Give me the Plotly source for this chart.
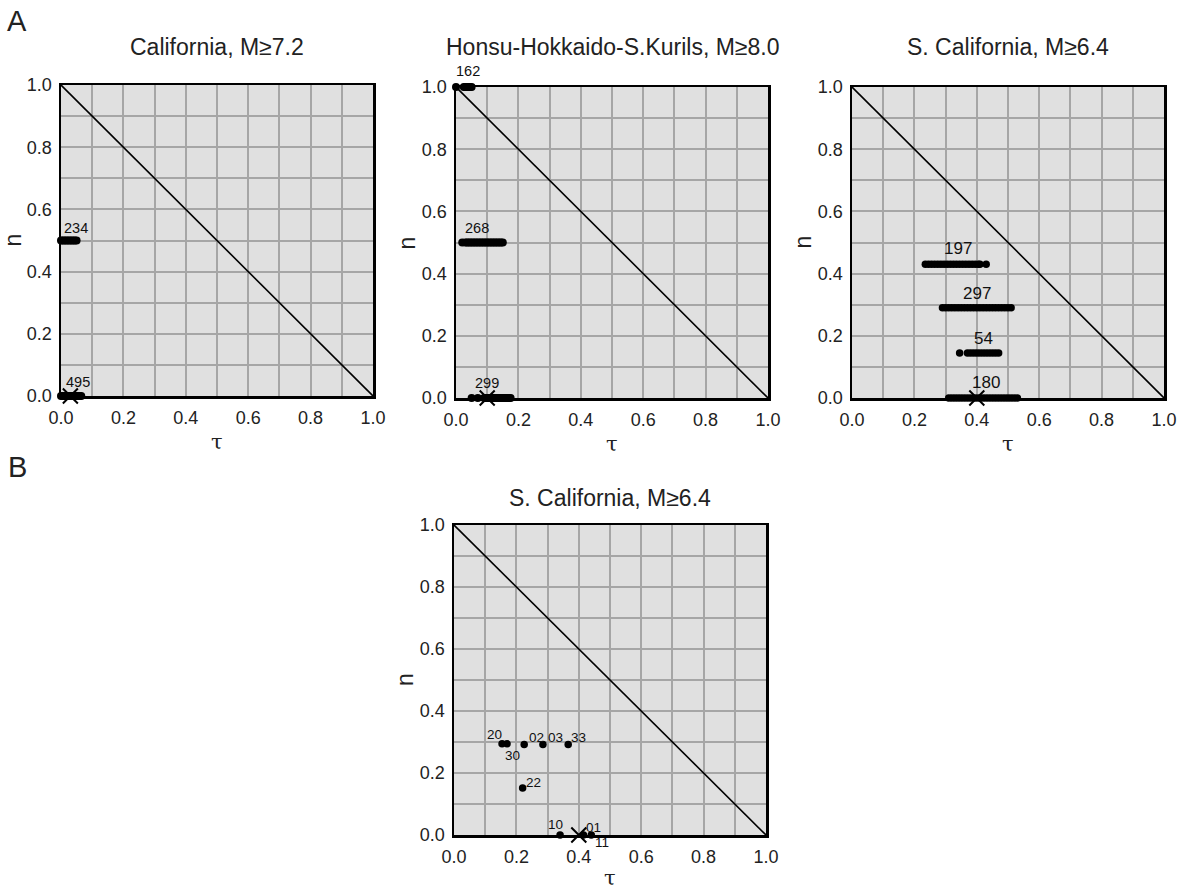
import plotly.graph_objects as go

W, H = 1186, 892

# ---------------- data ----------------
# Panel A1: California, M>=7.2
a1_half_tau = [0.000, 0.005, 0.010, 0.015, 0.020, 0.025, 0.030, 0.035, 0.040, 0.045, 0.050]
a1_half_n = 0.5
a1_zero_tau = [0.000, 0.005, 0.010, 0.015, 0.020, 0.025, 0.030, 0.035, 0.040, 0.045, 0.050, 0.055, 0.060, 0.065]
a1_zero_n = 0.0
a1_x = (0.03, 0.0)
a1_labels = [("234", 0.048, 0.54), ("495", 0.055, 0.045)]

# Panel A2: Honsu-Hokkaido-S.Kurils, M>=8.0
a2_one_tau = [0.000, 0.025, 0.030, 0.035, 0.040, 0.045, 0.050]
a2_one_n = 1.0
a2_half_tau = [0.020, 0.030, 0.035, 0.040, 0.045, 0.050, 0.055, 0.060, 0.065, 0.070, 0.075, 0.080,
               0.085, 0.090, 0.095, 0.100, 0.105, 0.110, 0.115, 0.120, 0.125, 0.130, 0.135, 0.140, 0.145, 0.150]
a2_half_n = 0.5
a2_zero_tau = [0.050, 0.070, 0.090, 0.095, 0.100, 0.105, 0.110, 0.115, 0.120, 0.125, 0.130, 0.135,
               0.140, 0.145, 0.150, 0.155, 0.160, 0.165, 0.170, 0.175]
a2_zero_n = 0.0
a2_x = (0.10, 0.0)
a2_labels = [("162", 0.04, 1.05), ("268", 0.067, 0.547), ("299", 0.10, 0.048)]

# Panel A3: S. California, M>=6.4
a3_r1_tau = [0.235, 0.245, 0.255, 0.265, 0.275, 0.285, 0.295, 0.305, 0.315, 0.325, 0.335, 0.345,
             0.355, 0.365, 0.375, 0.385, 0.395, 0.405, 0.410, 0.430]
a3_r1_n = 0.43
a3_r2_tau = [0.290, 0.300, 0.310, 0.320, 0.330, 0.340, 0.350, 0.360, 0.370, 0.380, 0.390, 0.400,
             0.410, 0.420, 0.430, 0.440, 0.450, 0.460, 0.470, 0.480, 0.490, 0.500, 0.510]
a3_r2_n = 0.29
a3_r3_tau = [0.345, 0.370, 0.380, 0.390, 0.400, 0.410, 0.420, 0.430, 0.440, 0.450, 0.460, 0.470]
a3_r3_n = 0.145
a3_r4_tau = [0.310, 0.320, 0.330, 0.340, 0.350, 0.360, 0.370, 0.380, 0.390, 0.400, 0.410, 0.420,
             0.430, 0.440, 0.450, 0.460, 0.470, 0.480, 0.490, 0.500, 0.510, 0.520, 0.530]
a3_r4_n = 0.0
a3_x = (0.40, 0.0)
a3_labels = [("197", 0.34, 0.48), ("297", 0.40, 0.335), ("54", 0.42, 0.19), ("180", 0.43, 0.05)]

# Panel B: S. California, M>=6.4 (individual points)
b_names = ["20", "30", "02", "03", "33", "22", "10", "01", "11"]
b_tau = [0.154, 0.170, 0.225, 0.285, 0.366, 0.220, 0.340, 0.415, 0.440]
b_n = [0.294, 0.294, 0.292, 0.292, 0.292, 0.152, 0.000, 0.000, 0.000]
b_label_pos = [(0.131, 0.323), (0.189, 0.258), (0.263, 0.313), (0.324, 0.313), (0.400, 0.313),
               (0.256, 0.168), (0.324, 0.035), (0.446, 0.023), (0.474, -0.023)]
b_x = (0.40, 0.0)

titles = ["California, M\u22657.2", "Honsu-Hokkaido-S.Kurils, M\u22658.0",
          "S. California, M\u22656.4", "S. California, M\u22656.4"]
tick_vals = [0.0, 0.2, 0.4, 0.6, 0.8, 1.0]

# ---------------- layout geometry (window pixels) ----------------
boxes = [  # left, right, top, bottom
    (61, 373, 85, 396),
    (456, 768, 87, 398),
    (852, 1164, 87, 398),
    (454, 766, 525, 835),
]

def px(xp):
    return xp / W

def py(yp):
    return 1 - yp / H

FONT = "Liberation Sans, Arial, Helvetica, sans-serif"
GRID = "#a6a6a6"
fig = go.Figure()

def ax_name(i, kind):
    return kind + ("" if i == 0 else str(i + 1))

def add_dots(i, xs, ys, size=7.5):
    fig.add_trace(go.Scatter(x=xs, y=ys, mode="markers", xaxis=ax_name(i, "x"), yaxis=ax_name(i, "y"),
                             marker=dict(color="black", size=size), cliponaxis=False,
                             showlegend=False, hoverinfo="skip"))

def add_cross(i, pt):
    fig.add_trace(go.Scatter(x=[pt[0]], y=[pt[1]], mode="markers", xaxis=ax_name(i, "x"),
                             yaxis=ax_name(i, "y"),
                             marker=dict(symbol="x-thin", size=15, line=dict(color="black", width=2)),
                             cliponaxis=False, showlegend=False, hoverinfo="skip"))

def add_diag(i):
    fig.add_trace(go.Scatter(x=[0, 1], y=[1, 0], mode="lines", xaxis=ax_name(i, "x"), yaxis=ax_name(i, "y"),
                             line=dict(color="black", width=1.6), showlegend=False, hoverinfo="skip"))

for i in range(4):
    add_diag(i)

add_dots(0, a1_half_tau, [a1_half_n] * len(a1_half_tau), 8)
add_dots(0, a1_zero_tau, [a1_zero_n] * len(a1_zero_tau), 8)
add_cross(0, a1_x)

add_dots(1, a2_one_tau, [a2_one_n] * len(a2_one_tau), 8)
add_dots(1, a2_half_tau, [a2_half_n] * len(a2_half_tau), 8)
add_dots(1, a2_zero_tau, [a2_zero_n] * len(a2_zero_tau), 8)
add_cross(1, a2_x)

add_dots(2, a3_r1_tau, [a3_r1_n] * len(a3_r1_tau))
add_dots(2, a3_r2_tau, [a3_r2_n] * len(a3_r2_tau))
add_dots(2, a3_r3_tau, [a3_r3_n] * len(a3_r3_tau))
add_dots(2, a3_r4_tau, [a3_r4_n] * len(a3_r4_tau))
add_cross(2, a3_x)

add_dots(3, b_tau, b_n)
add_cross(3, b_x)

annotations = []
def lab(i, text, x, y, size):
    # labels outside the axis range would be hidden, so clamp and shift in pixels
    l, r, t, b = boxes[i]
    yc = min(max(y, 0.0), 1.0)
    shift = (y - yc) * (b - t)
    annotations.append(dict(text=text, x=x, y=yc, yshift=shift, xref=ax_name(i, "x"), yref=ax_name(i, "y"),
                            showarrow=False, font=dict(family=FONT, size=size, color="#111")))

for t, x, y in a1_labels:
    lab(0, t, x, y, 14.5)
for t, x, y in a2_labels:
    lab(1, t, x, y, 14.5)
for t, x, y in a3_labels:
    lab(2, t, x, y, 17)
for t, (x, y) in zip(b_names, b_label_pos):
    lab(3, t, x, y, 13.5)

layout = dict(width=W, height=H, margin=dict(l=0, r=0, t=0, b=0, pad=0), autosize=False,
              paper_bgcolor="white", plot_bgcolor="#e0e0e0", showlegend=False)

for i, (l, r, t, b) in enumerate(boxes):
    xd = [px(l), px(r)]
    yd = [py(b), py(t)]
    common = dict(range=[0, 1], tickvals=tick_vals, tickformat=".1f", showgrid=True, automargin=False,
                  gridcolor=GRID, gridwidth=2, zeroline=False, showline=True, mirror=True,
                  linecolor="black", linewidth=2.5, ticks="", fixedrange=True,
                  tickfont=dict(family=FONT, size=18, color="#222"),
                  minor=dict(dtick=0.1, tick0=0, showgrid=True, gridcolor=GRID, gridwidth=2))
    xa = dict(common, domain=xd, anchor=ax_name(i, "y"), ticklabelstandoff=4)
    ya = dict(common, domain=yd, anchor=ax_name(i, "x"), ticklabelstandoff=3)
    layout["xaxis" + ("" if i == 0 else str(i + 1))] = xa
    layout["yaxis" + ("" if i == 0 else str(i + 1))] = ya
    cx = (l + r) / 2
    # title
    ty = 47 if i < 3 else 498
    annotations.append(dict(text=titles[i], x=px(cx), y=py(ty), xref="paper", yref="paper",
                            showarrow=False, font=dict(family=FONT, size=23, color="#222"),
                            xanchor="center", yanchor="middle"))
    # tau label
    tauy = min(b + 46, 878)
    annotations.append(dict(text="\u03c4", x=px(cx), y=py(tauy), xref="paper", yref="paper",
                            showarrow=False, font=dict(family="DejaVu Serif, serif", size=21, color="#222"),
                            xanchor="center", yanchor="middle"))
    # n label (rotated)
    annotations.append(dict(text="n", x=px(l - 49), y=py((t + b) / 2), xref="paper", yref="paper",
                            showarrow=False, textangle=-90,
                            font=dict(family=FONT, size=23, color="#222"),
                            xanchor="center", yanchor="middle"))

annotations.append(dict(text="A", x=px(17), y=py(21), xref="paper", yref="paper", showarrow=False,
                        font=dict(family=FONT, size=29, color="#222"), xanchor="center", yanchor="middle"))
annotations.append(dict(text="B", x=px(17), y=py(467), xref="paper", yref="paper", showarrow=False,
                        font=dict(family=FONT, size=29, color="#222"), xanchor="center", yanchor="middle"))

layout["annotations"] = annotations
fig.update_layout(**layout)
fig.write_html("out.html", config={"displayModeBar": False, "staticPlot": True},
               post_script="document.body.style.margin='0px';document.body.style.overflow='hidden';")
